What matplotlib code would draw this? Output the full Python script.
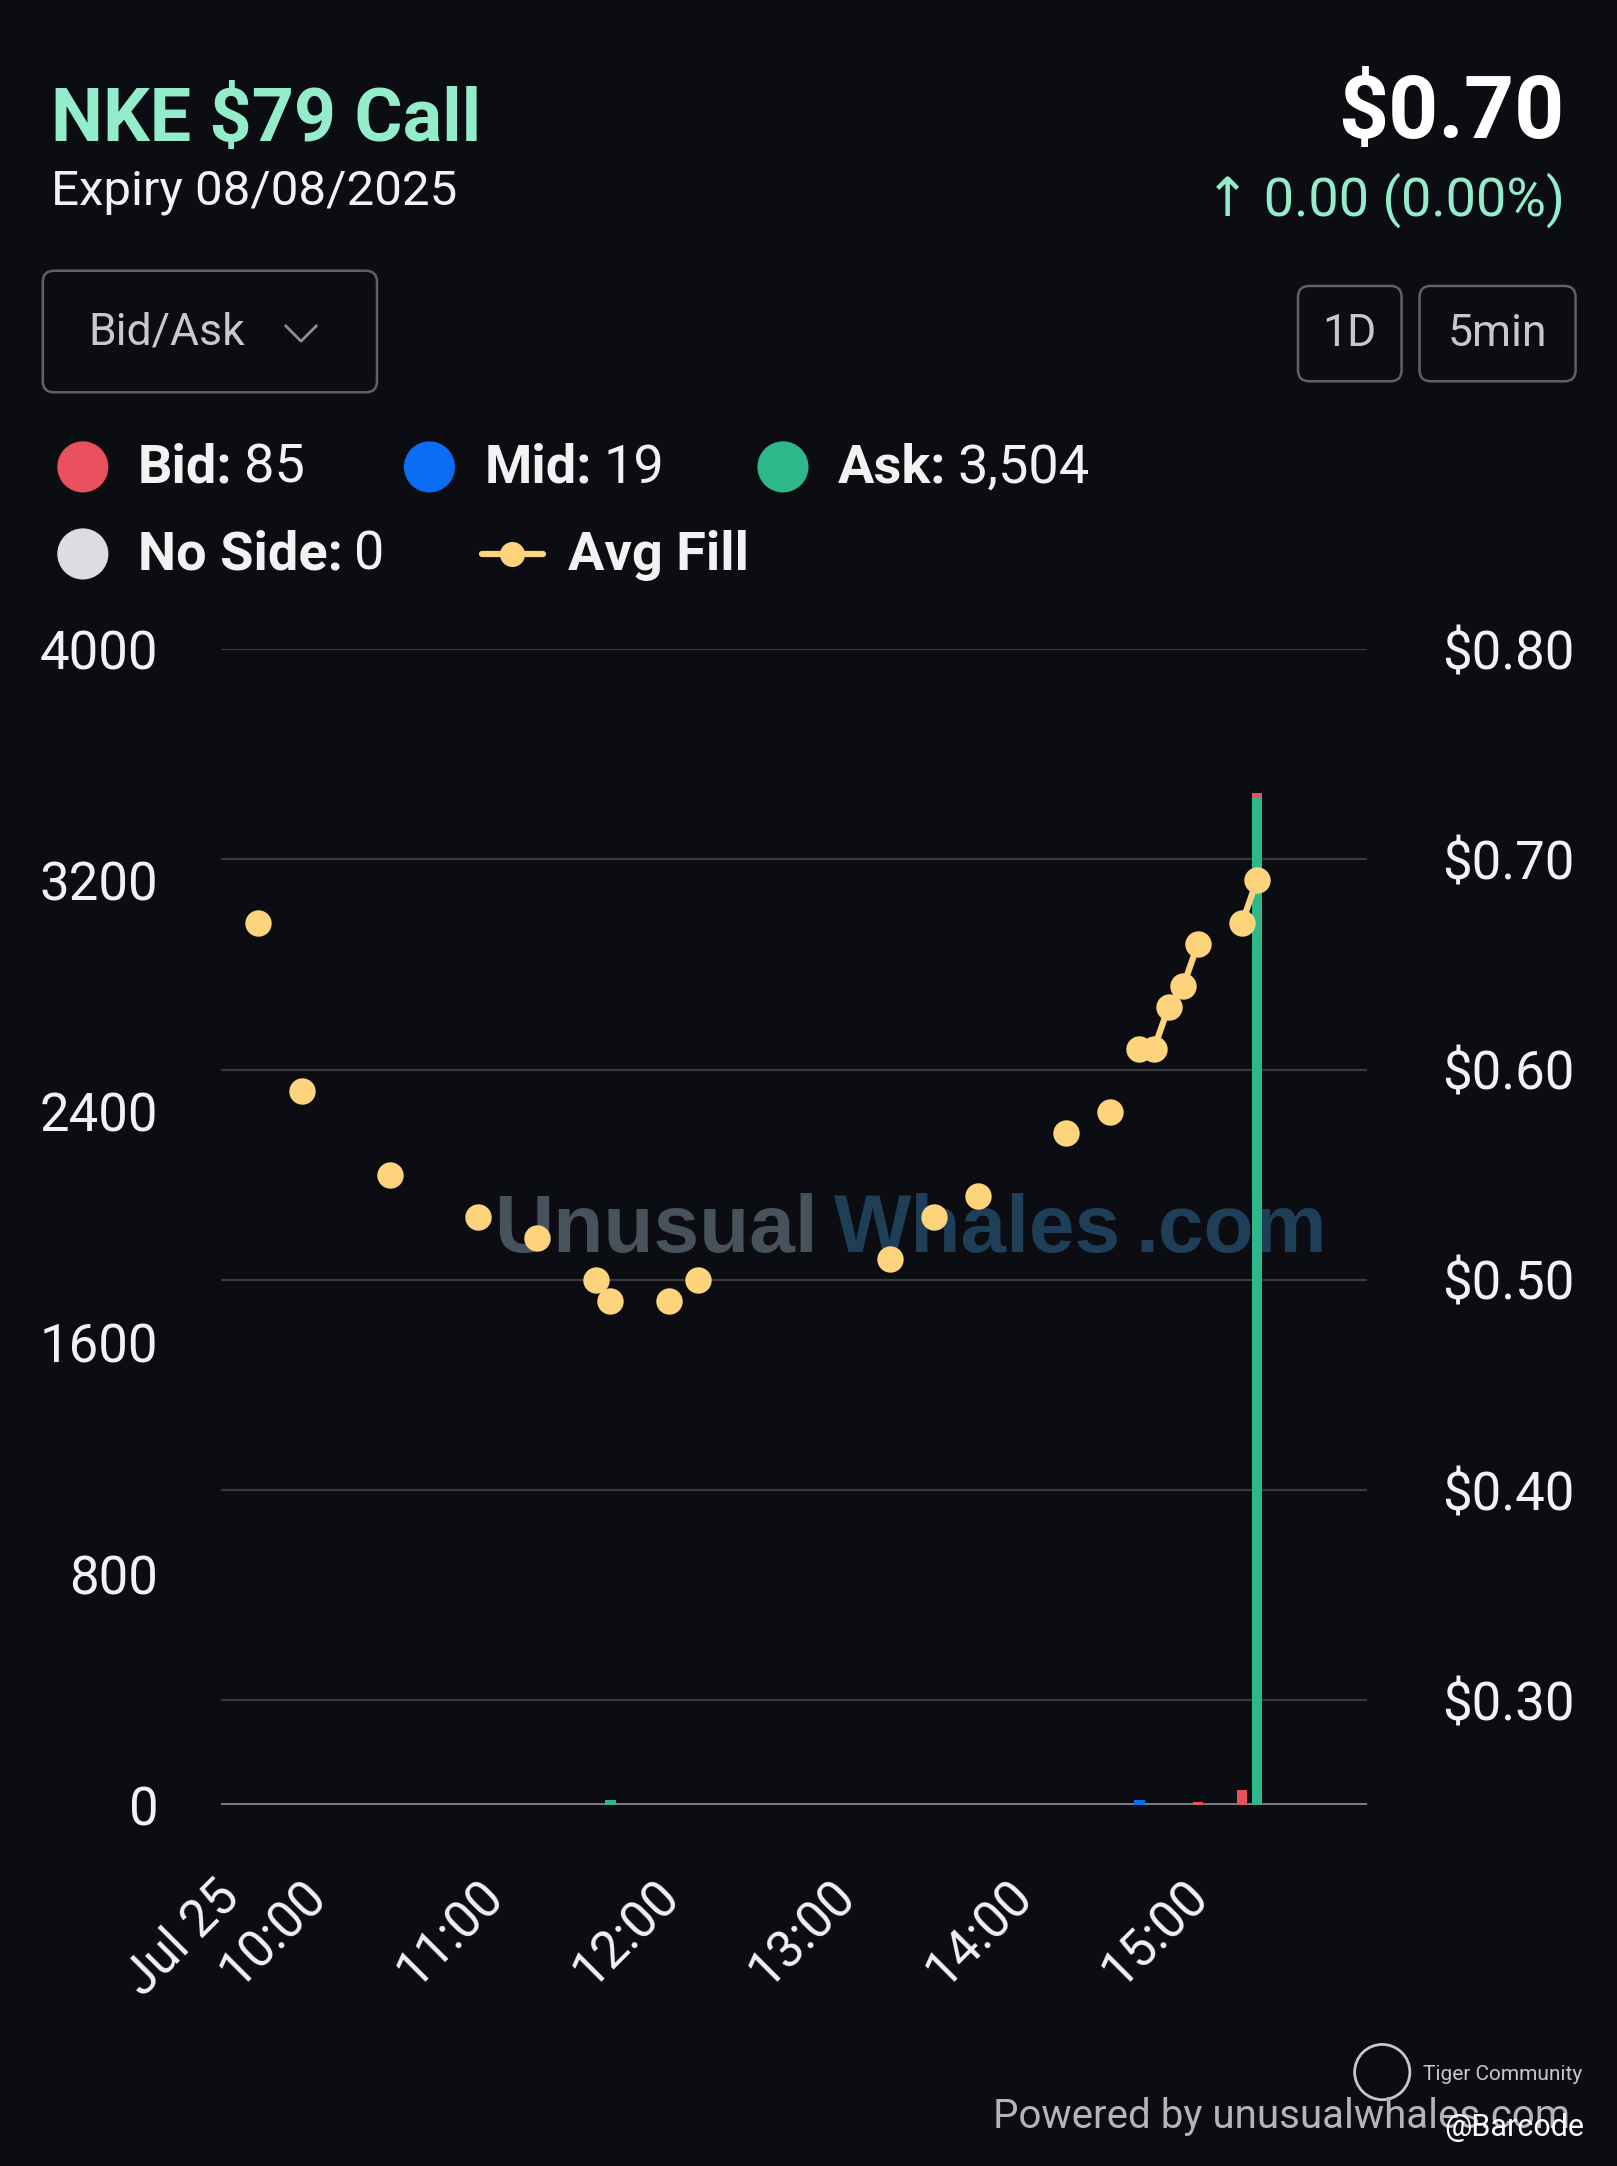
import matplotlib
matplotlib.use("Agg")
import matplotlib.pyplot as plt
from matplotlib.patches import FancyBboxPatch, Circle
from matplotlib.transforms import blended_transform_factory, ScaledTranslation
import pandas as pd

plt.rcParams['font.family'] = ['Roboto', 'DejaVu Sans']

# ---- data ----
day = "2025-07-25 "
fill_times = ["09:40", "09:55", "10:25", "10:55", "11:15", "11:35", "11:40",
              "12:00", "12:10", "13:15", "13:30", "13:45", "14:15", "14:30",
              "14:40", "14:45", "14:50", "14:55", "15:00", "15:15", "15:20"]
fill_prices = [0.67, 0.59, 0.55, 0.53, 0.52, 0.50, 0.49,
               0.49, 0.50, 0.51, 0.53, 0.54, 0.57, 0.58,
               0.61, 0.61, 0.63, 0.64, 0.66, 0.67, 0.69]

bar_times = ["11:40", "14:40", "15:00", "15:15", "15:20"]
ask_vol = [20, 0, 0, 0, 3484]
mid_vol = [0, 19, 0, 0, 0]
bid_vol = [0, 0, 12, 55, 18]
noside_vol = [0, 0, 0, 0, 0]

vol_ticks = [0, 800, 1600, 2400, 3200, 4000]
price_ticks = [0.30, 0.40, 0.50, 0.60, 0.70, 0.80]
x_tick_times = ["09:30", "10:00", "11:00", "12:00", "13:00", "14:00", "15:00"]
x_tick_labels = ["Jul 25", "10:00", "11:00", "12:00", "13:00", "14:00", "15:00"]

BG = "#0c0d12"
MINT = "#93edcb"
C_BID = "#e8505d"
C_MID = "#0b6cf5"
C_ASK = "#2eb88a"
C_NOSIDE = "#dcdde1"
C_FILL = "#fdd37b"
WHITE = "#f2f2f2"

fig = plt.figure(figsize=(16.17, 21.66), dpi=100, facecolor=BG)

# overlay axes in screen-like coordinates (1171 x 1568)
bg = fig.add_axes([0, 0, 1, 1], zorder=-1)
bg.set_xlim(0, 1171)
bg.set_ylim(1568, 0)
bg.axis("off")

# header
bg.text(37, 102, "NKE $79 Call", color=MINT, fontsize=53, weight="bold", va="baseline")
bg.text(37, 148, "Expiry 08/08/2025", color=WHITE, fontsize=35.5, va="baseline")
bg.text(1133, 100, "$0.70", color="white", fontsize=63, weight="bold", va="baseline", ha="right")
bg.text(1133, 156, "↑ 0.00 (0.00%)", color=MINT, fontsize=39, va="baseline", ha="right")

# buttons
bg.add_patch(FancyBboxPatch((31, 196), 242, 88, boxstyle="round,pad=0,rounding_size=8",
                            fill=False, ec="#606166", lw=1.8))
bg.text(64, 241, "Bid/Ask", color="#c9c9cc", fontsize=32, va="center")
bg.plot([207, 218, 229], [236, 247, 236], color="#8d8e93", lw=2)
bg.add_patch(FancyBboxPatch((940, 207), 75, 69, boxstyle="round,pad=0,rounding_size=8",
                            fill=False, ec="#606166", lw=1.8))
bg.text(977.5, 242, "1D", color="#c9c9cc", fontsize=32, va="center", ha="center")
bg.add_patch(FancyBboxPatch((1028, 207), 113, 69, boxstyle="round,pad=0,rounding_size=8",
                            fill=False, ec="#606166", lw=1.8))
bg.text(1084.5, 242, "5min", color="#c9c9cc", fontsize=32, va="center", ha="center")

# legend
legend = [
    (60, 338, C_BID, "Bid:", f"{sum(bid_vol):,}"),
    (311, 338, C_MID, "Mid:", f"{sum(mid_vol):,}"),
    (567, 338, C_ASK, "Ask:", f"{sum(ask_vol):,}"),
    (60, 401, C_NOSIDE, "No Side:", f"{sum(noside_vol):,}"),
]
for cx, cy, col, lab, val in legend:
    bg.add_patch(Circle((cx, cy), 18, color=col))
    t = bg.text(cx + 40, cy + 1, lab, color=WHITE, fontsize=39, weight="bold", va="center")
    bg.annotate(val, xy=(1, 0), xycoords=t, xytext=(8, 0), textcoords="offset points",
                color=WHITE, fontsize=39, va="bottom")
bg.plot([349, 393], [401, 401], color=C_FILL, lw=4.5, solid_capstyle="round")
bg.plot([371], [401], "o", color=C_FILL, ms=18, mew=0)
bg.text(411, 402, "Avg Fill", color=WHITE, fontsize=39, weight="bold", va="center")

# watermark
wm = dict(family="Liberation Sans", weight="bold", fontsize=59, va="baseline")
bg.text(358, 906, "Unusual", color="#47525d", **wm)
bg.text(604, 906, "Whales", color="#1f3e58", **wm)
bg.text(822, 906, ".com", color="#1f3e58", **wm)

# footer
bg.text(1137, 1532, "Powered by unusualwhales.com", color="#b5b5b8", fontsize=29,
        ha="right", va="center")
bg.add_patch(Circle((1001, 1500), 20, fill=False, ec="#c8c8c8", lw=2))
bg.text(1146, 1502, "Tiger Community", color="#c8c8c8", fontsize=15, ha="right", va="center")
bg.text(1147, 1540, "@Barcode", color="white", fontsize=22, ha="right", va="center")

# ---- chart ----
ax = fig.add_axes([160 / 1171, 1 - 1307 / 1568, 830 / 1171, 837 / 1568])
ax.patch.set_visible(False)
ax2 = ax.twinx()

half = pd.Timedelta(minutes=2.5)
bx = pd.to_datetime([day + t for t in bar_times]) + half
w = 3.6 / 1440
ask_arr = pd.Series(ask_vol)
mid_arr = pd.Series(mid_vol)
ax.bar(bx, ask_vol, w, color=C_ASK, zorder=3)
ax.bar(bx, mid_vol, w, bottom=ask_arr, color=C_MID, zorder=3)
ax.bar(bx, bid_vol, w, bottom=ask_arr + mid_arr, color=C_BID, zorder=3)

grid_idx = pd.date_range(day + "09:30", day + "15:55", freq="5min")
fills = pd.Series(fill_prices, index=pd.to_datetime([day + t for t in fill_times])).reindex(grid_idx)
ax2.plot(grid_idx + half, fills.values, color=C_FILL, lw=4.5, marker="o", ms=19, mew=0,
         solid_capstyle="round", zorder=4)

trans = blended_transform_factory(ax.transAxes, ax2.transData)
for p in price_ticks:
    ax.plot([0, 1], [p, p], transform=trans, color="#393a40", lw=1.6, zorder=0)
ax.axhline(0, color="#7d7d82", lw=2.8, zorder=1)

ax.set_xlim(pd.Timestamp(day + "09:30"), pd.Timestamp(day + "16:00"))
ax.set_ylim(0, 4000)
ax2.set_ylim(0.25, 0.80)

for a in (ax, ax2):
    for s in a.spines.values():
        s.set_visible(False)

ax.set_yticks(vol_ticks)
ax.set_yticklabels([str(v) for v in vol_ticks])
ax2.set_yticks(price_ticks)
ax2.set_yticklabels([f"${p:.2f}" for p in price_ticks])
ax.tick_params(axis="y", length=0, pad=45, labelsize=38, labelcolor=WHITE)
ax2.tick_params(axis="y", length=0, pad=54, labelsize=38, labelcolor=WHITE)

ax.set_xticks(pd.to_datetime([day + t for t in x_tick_times]))
ax.set_xticklabels(x_tick_labels, rotation=45, ha="right", va="center", rotation_mode="anchor")
ax.tick_params(axis="x", length=0, pad=60, labelsize=37, labelcolor=WHITE)
for lbl in ax.get_xticklabels():
    lbl.set_transform(lbl.get_transform() + ScaledTranslation(0.1, 0, fig.dpi_scale_trans))

fig.savefig("out.png", dpi=100, facecolor=BG)
